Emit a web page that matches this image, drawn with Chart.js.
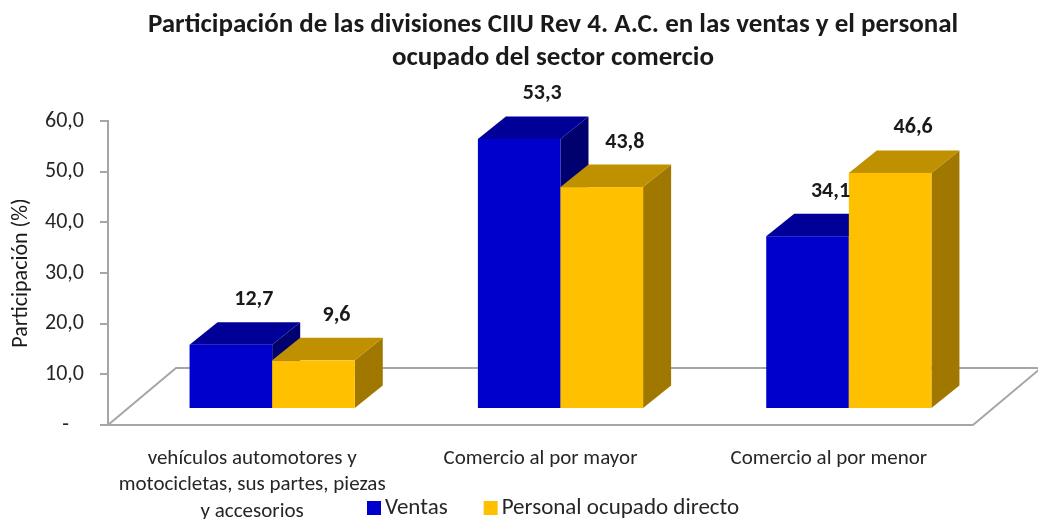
<!DOCTYPE html>
<html>
<head>
<meta charset="utf-8">
<script src="https://cdn.jsdelivr.net/npm/chart.js@4.4.0/dist/chart.umd.min.js"></script>
<style>
  html, body { margin: 0; padding: 0; background: #fff; }
</style>
</head>
<body>
<canvas id="chart" width="1038" height="519"></canvas>
<script>
// datos del gráfico
const categorias = [
  ['vehículos automotores y', 'motocicletas, sus partes, piezas', 'y accesorios'],
  'Comercio al por mayor',
  'Comercio al por menor'
];
const ventas = [12.7, 53.3, 34.1];
const personal = [9.6, 43.8, 46.6];
const series = ['Ventas', 'Personal ocupado directo'];
const titulo = [
  'Participación de las divisiones CIIU Rev 4. A.C. en las ventas y el personal',
  'ocupado del sector comercio'
];
const ticksY = [0, 10, 20, 30, 40, 50, 60];

const fuente = 'Carlito, Lato, sans-serif';
// frente, arriba, lado
const tonos = [
  ['#0000cc', '#000099', '#00006e'],
  ['#ffc000', '#bf9000', '#a07800']
];

const fmt = v => v === 0 ? '-   ' : v.toFixed(1).replace('.', ',');

// efecto 3D de Excel dibujado a mano sobre las barras de Chart.js
const cajas3d = {
  id: 'cajas3d',
  beforeDatasetsDraw(chart) {
    const ctx = chart.ctx;
    const a = chart.chartArea;
    const piso = { dx: 68, dy: -57 };
    const frente = { dx: 20, dy: -16 };
    const prof = { dx: 28, dy: -22.5 };

    ctx.save();
    ctx.beginPath();
    ctx.moveTo(a.left, a.bottom);
    ctx.lineTo(a.right, a.bottom);
    ctx.lineTo(a.right + piso.dx, a.bottom + piso.dy);
    ctx.lineTo(a.left + piso.dx, a.bottom + piso.dy);
    ctx.closePath();
    ctx.strokeStyle = '#a6a6a6';
    ctx.lineWidth = 2;
    ctx.stroke();

    const etiquetas = [];
    chart.data.datasets.forEach((ds, di) => {
      const meta = chart.getDatasetMeta(di);
      const [cF, cA, cL] = tonos[di];
      meta.data.forEach((el, i) => {
        const x0 = el.x - el.width / 2 + frente.dx;
        const x1 = x0 + el.width;
        const yT = el.y + frente.dy;
        const yB = el.base + frente.dy;
        // lado derecho
        ctx.beginPath();
        ctx.moveTo(x1, yB);
        ctx.lineTo(x1 + prof.dx, yB + prof.dy);
        ctx.lineTo(x1 + prof.dx, yT + prof.dy);
        ctx.lineTo(x1, yT);
        ctx.closePath();
        ctx.fillStyle = cL;
        ctx.fill();
        // tapa
        ctx.beginPath();
        ctx.moveTo(x0, yT);
        ctx.lineTo(x0 + prof.dx, yT + prof.dy);
        ctx.lineTo(x1 + prof.dx, yT + prof.dy);
        ctx.lineTo(x1, yT);
        ctx.closePath();
        ctx.fillStyle = cA;
        ctx.fill();
        // frente
        ctx.fillStyle = cF;
        ctx.fillRect(x0, yT, x1 - x0, yB - yT);
        etiquetas.push([fmt(ds.data[i]), (x0 + x1) / 2 + 23, yT - 45]);
      });
    });

    ctx.fillStyle = '#1a1a1a';
    ctx.font = 'bold 22px ' + fuente;
    ctx.textAlign = 'center';
    ctx.textBaseline = 'middle';
    etiquetas.forEach(([t, x, y]) => ctx.fillText(t, x, y));
    ctx.restore();
    return false;
  },
  afterDraw(chart) {
    const ctx = chart.ctx;
    ctx.save();
    // título
    ctx.fillStyle = '#1a1a1a';
    ctx.font = 'bold 27px ' + fuente;
    ctx.textAlign = 'center';
    ctx.textBaseline = 'middle';
    titulo.forEach((t, i) => ctx.fillText(t, 553, 25 + i * 33));
    // leyenda
    ctx.font = '23px ' + fuente;
    ctx.textAlign = 'left';
    let x = 367;
    chart.data.datasets.forEach((ds, di) => {
      ctx.fillStyle = ds.backgroundColor;
      ctx.fillRect(x, 501, 14, 14);
      ctx.fillStyle = '#262626';
      ctx.fillText(ds.label, x + 18, 508);
      x += 18 + ctx.measureText(ds.label).width + 36;
    });
    ctx.restore();
  }
};

new Chart(document.getElementById('chart'), {
  type: 'bar',
  data: {
    labels: categorias,
    datasets: [
      { label: series[0], data: ventas, backgroundColor: tonos[0][0] },
      { label: series[1], data: personal, backgroundColor: tonos[1][0] }
    ]
  },
  options: {
    responsive: false,
    animation: false,
    layout: { padding: { top: 121, right: 65, left: 0, bottom: 0 } },
    datasets: { bar: { categoryPercentage: 0.573, barPercentage: 1 } },
    plugins: {
      legend: { display: false },
      title: { display: false },
      tooltip: { enabled: false }
    },
    scales: {
      x: {
        grid: { display: false, drawTicks: false },
        border: { display: false },
        ticks: {
          color: '#262626',
          padding: 20,
          maxRotation: 0,
          autoSkip: false,
          font: { family: fuente, size: 21, lineHeight: 26.5 / 21 }
        },
        afterFit(s) { s.height = 94; }
      },
      y: {
        min: 0,
        max: 60,
        afterBuildTicks(s) { s.ticks = ticksY.map(v => ({ value: v })); },
        grid: { drawOnChartArea: false, drawTicks: true, tickLength: 8, color: '#a6a6a6', lineWidth: 2 },
        border: { display: true, color: '#a6a6a6', width: 2 },
        ticks: {
          color: '#262626',
          padding: 16,
          font: { family: fuente, size: 22 },
          callback: v => fmt(v)
        },
        title: {
          display: true,
          text: 'Participación (%)',
          color: '#1a1a1a',
          padding: { top: 8, bottom: 0 },
          font: { family: fuente, size: 22, lineHeight: 1.2 }
        },
        afterFit(s) { s.width = 108; }
      }
    }
  },
  plugins: [cajas3d]
});
</script>
</body>
</html>
